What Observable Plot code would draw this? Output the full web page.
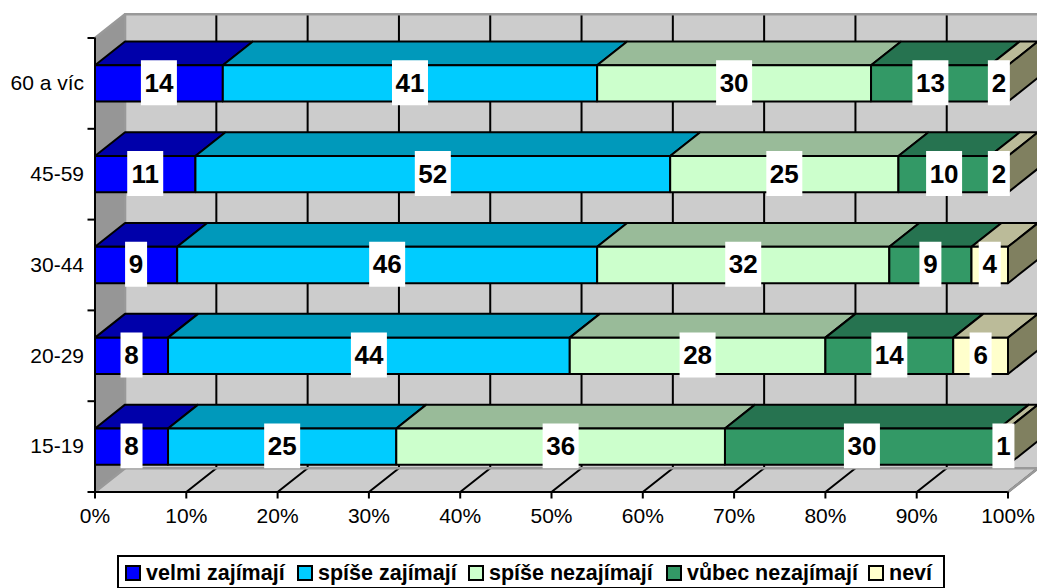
<!DOCTYPE html>
<html>
<head>
<meta charset="utf-8">
<script src="https://cdn.jsdelivr.net/npm/d3@7"></script>
<script src="https://cdn.jsdelivr.net/npm/@observablehq/plot@0.6"></script>
<style>
html,body{margin:0;padding:0;background:#fff;overflow:hidden;width:1037px;height:588px}
#wrap{position:relative;width:1037px;height:588px;overflow:hidden}
#chart svg{display:block}
#legend{position:absolute;left:117px;top:555px;width:824px;height:30px;border:2px solid #000;
 font:bold 21.5px "Liberation Sans",Arial,sans-serif;color:#000;white-space:nowrap}
#legend .item{position:absolute;top:1px;height:30px;line-height:30px;display:flex;align-items:center}
#legend .sw{width:12px;height:12px;border:2px solid #000;margin-right:5px;display:inline-block;box-sizing:content-box}
</style>
</head>
<body>
<div id="wrap">
<div id="chart"></div>
<div id="legend"></div>
</div>
<script>
// ---- data ----
const categories = ["15-19", "20-29", "30-44", "45-59", "60 a víc"];
const seriesNames = ["velmi zajímají", "spíše zajímají", "spíše nezajímají", "vůbec nezajímají", "neví"];
const velmi = [8, 8, 9, 11, 14];
const spise = [25, 44, 46, 52, 41];
const spiseNe = [36, 28, 32, 25, 30];
const vubecNe = [30, 14, 9, 10, 13];
const nevi = [1, 6, 4, 2, 2];
const seriesValues = [velmi, spise, spiseNe, vubecNe, nevi];
const frontColors = ["#0000ff", "#00ccff", "#ccffcc", "#339966", "#ffffcc"];
const topColors = ["#0000aa", "#0099bb", "#99bb99", "#267350", "#bbbb99"];
const sideColor = "#808060";
const xTicks = d3.range(0, 101, 10);
const bandTicks = d3.range(0, 6);

// ---- 3D depth, in data units ----
const depthX = 3.29, depthY = 0.262, halfBar = 0.2;

const poly = (id, color, pts) => pts.concat([pts[0]]).map(([x, y]) => ({id, color, x, y}));

const segments = [];
categories.forEach((cat, i) => {
  let acc = 0;
  seriesValues.forEach((vals, s) => {
    segments.push({cat, i, s, v: vals[i], x0: acc, x1: acc + vals[i], mid: acc + vals[i] / 2, yc: i + 0.5});
    acc += vals[i];
  });
});

const barPolys = [];
segments.forEach(d => {
  const y0 = d.yc - halfBar, y1 = d.yc + halfBar, key = d.i + "-" + d.s;
  barPolys.push(...poly("t" + key, topColors[d.s], [[d.x0, y1], [d.x1, y1], [d.x1 + depthX, y1 + depthY], [d.x0 + depthX, y1 + depthY]]));
  barPolys.push(...poly("f" + key, frontColors[d.s], [[d.x0, y0], [d.x1, y0], [d.x1, y1], [d.x0, y1]]));
});
categories.forEach((c, i) => {
  const y0 = i + 0.5 - halfBar, y1 = i + 0.5 + halfBar;
  barPolys.push(...poly("s" + i, sideColor, [[100, y0], [100 + depthX, y0 + depthY], [100 + depthX, y1 + depthY], [100, y1]]));
});

const topY = bandTicks[bandTicks.length - 1];
const shell = [
  ...poly("wall", "#cccccc", [[depthX, depthY], [100 + depthX, depthY], [100 + depthX, topY + depthY], [depthX, topY + depthY]]),
  ...poly("floor", "#cccccc", [[0, 0], [100, 0], [100 + depthX, depthY], [depthX, depthY]]),
  ...poly("left", "#969696", [[0, 0], [depthX, depthY], [depthX, topY + depthY], [0, topY]])
];

const gridLines = xTicks.flatMap(t => [
  {id: t, x: t, y: 0},
  {id: t, x: t + depthX, y: depthY},
  {id: t, x: t + depthX, y: topY + depthY}
]);
const edgeGray = [
  {id: "a", x: 0, y: 0}, {id: "a", x: depthX, y: depthY}, {id: "a", x: 100 + depthX, y: depthY}, {id: "a", x: 100, y: 0},
  {id: "b", x: 0, y: topY}, {id: "b", x: depthX, y: topY + depthY}, {id: "b", x: 100 + depthX, y: topY + depthY},
  {id: "c", x: depthX, y: depthY}, {id: "c", x: depthX, y: topY + depthY}
];

const chart = Plot.plot({
  width: 1037, height: 548,
  marginLeft: 94.5, marginRight: 29.5, marginTop: 37.5, marginBottom: 56.5,
  x: {domain: [0, 100]},
  y: {domain: [0, 5]},
  color: {type: "identity"},
  style: {fontFamily: "'Liberation Sans',Arial,sans-serif", color: "#000", background: "#fff", overflow: "visible"},
  marks: [
    Plot.line(shell, {x: "x", y: "y", z: "id", fill: "color", stroke: "none"}),
    Plot.line(gridLines.filter(d => d.id > 0), {x: "x", y: "y", z: "id", stroke: "#000", strokeWidth: 2}),
    Plot.line(edgeGray, {x: "x", y: "y", z: "id", stroke: "#999999", strokeWidth: 2.5}),
    Plot.line(barPolys, {x: "x", y: "y", z: "id", fill: "color", stroke: "#000", strokeWidth: 2, strokeLinejoin: "miter"}),
    Plot.ruleY([0], {stroke: "#000", strokeWidth: 2}),
    Plot.ruleX([0], {stroke: "#000", strokeWidth: 2}),
    Plot.axisX({ticks: xTicks, tickFormat: d => d + "%", tickSize: 7, tickPadding: 9, fontSize: 21, strokeWidth: 2, label: null, stroke: "#000", fill: "#000"}),
    Plot.axisY({ticks: bandTicks, tickFormat: () => "", tickSize: 7, strokeWidth: 2, label: null, stroke: "#000"}),
    Plot.axisY({ticks: categories.map((c, i) => i + 0.5), tickFormat: d => categories[Math.floor(d)], tickSize: 0, tickPadding: 11, fontSize: 21, label: null, fill: "#000"}),
    Plot.ruleX(segments, {
      x: "mid",
      y1: d => d.yc - 0.245,
      y2: d => d.yc + 0.25,
      stroke: "#fff",
      strokeWidth: d => String(d.v).length === 1 ? 22 : 36
    }),
    Plot.text(segments, {x: "mid", y: "yc", text: d => String(d.v), fontSize: 26, fontWeight: "bold", fill: "#000"})
  ]
});
document.getElementById("chart").append(chart);

// ---- legend ----
const legendOffsets = [6, 178, 349, 547, 749];
const legend = document.getElementById("legend");
seriesNames.forEach((name, i) => {
  const it = document.createElement("div");
  it.className = "item";
  it.style.left = legendOffsets[i] + "px";
  const sw = document.createElement("span");
  sw.className = "sw";
  sw.style.background = frontColors[i];
  const tx = document.createElement("span");
  tx.textContent = name;
  it.append(sw, tx);
  legend.append(it);
});
</script>
</body>
</html>
